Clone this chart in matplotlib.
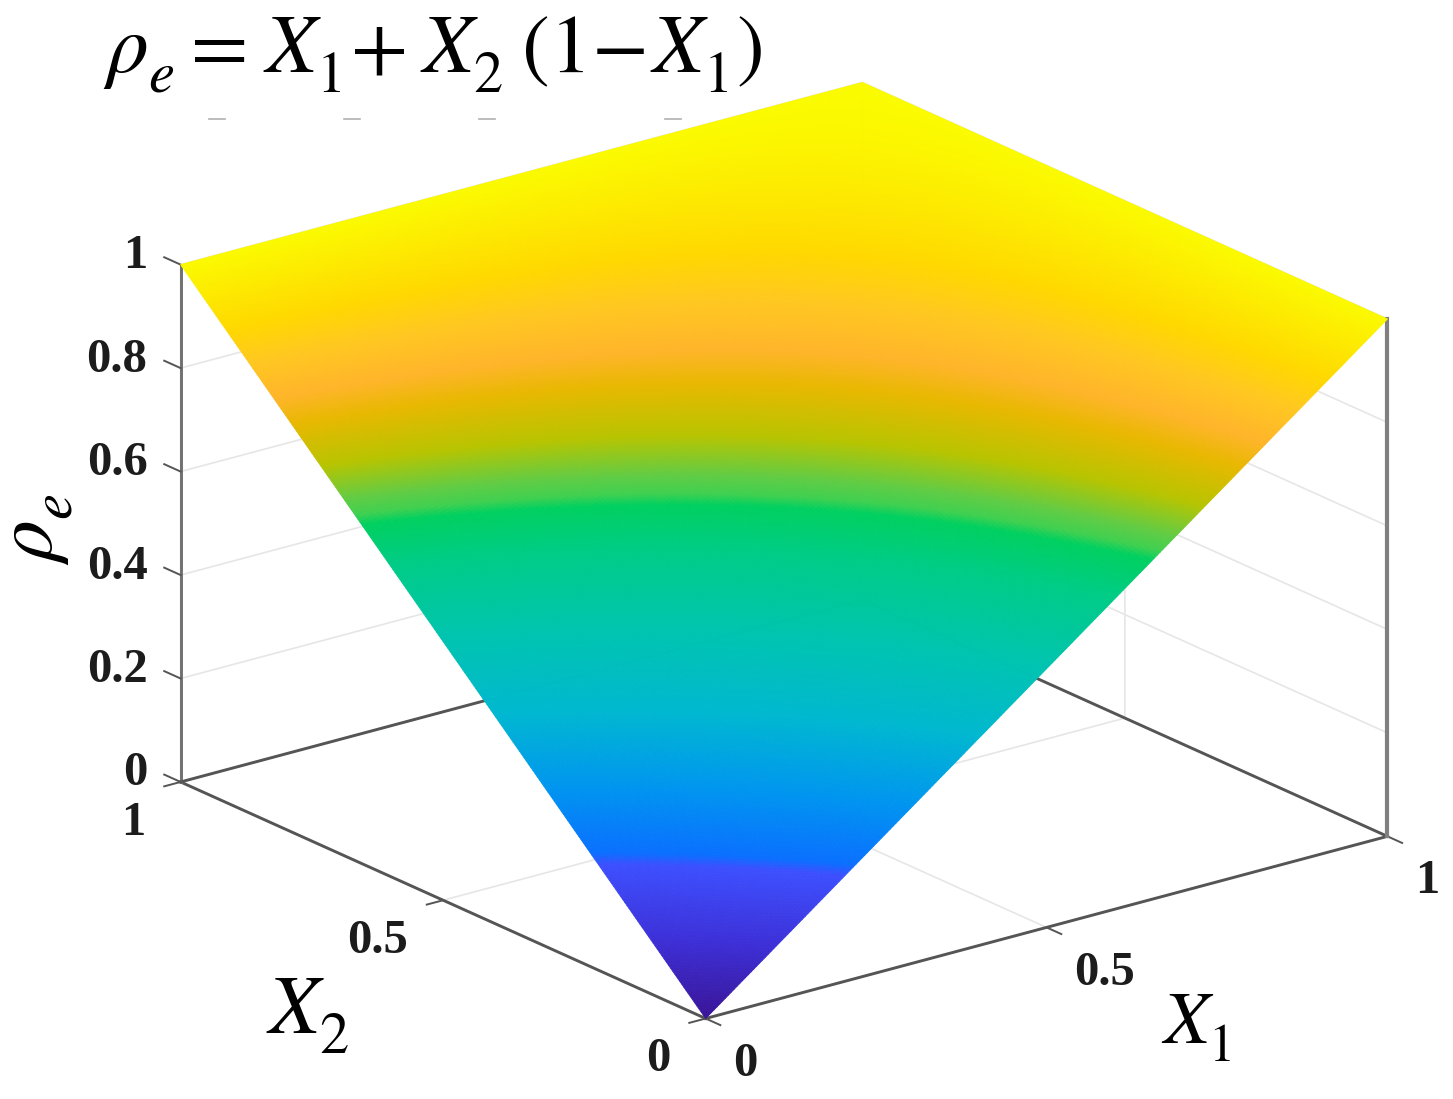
import numpy as np
import matplotlib
matplotlib.use("Agg")
import matplotlib.pyplot as plt
from matplotlib.colors import LinearSegmentedColormap
from matplotlib.lines import Line2D
from matplotlib.transforms import Affine2D
from matplotlib import _mathtext

# ---- data ----
x1_values = [0.0, 0.25, 0.5, 0.75, 1.0]
x2_values = [0.0, 0.25, 0.5, 0.75, 1.0]
# rho_e table: rows are X2, columns are X1
rho_values = [
    [0.00, 0.25, 0.50, 0.75, 1.00],
    [0.25, 0.4375, 0.625, 0.8125, 1.00],
    [0.50, 0.625, 0.75, 0.875, 1.00],
    [0.75, 0.8125, 0.875, 0.9375, 1.00],
    [1.00, 1.00, 1.00, 1.00, 1.00],
]
xy_ticks = [0, 0.5, 1]
xy_labels = ["0", "0.5", "1"]
z_ticks = [0, 0.2, 0.4, 0.6, 0.8, 1]
z_labels = ["0", "0.2", "0.4", "0.6", "0.8", "1"]

color_stops = [
    (0.00, "#3a169a"), (0.10, "#3d30d8"), (0.20, "#3d50ff"), (0.215, "#0a70ff"),
    (0.30, "#0095f0"), (0.40, "#00b8d0"), (0.50, "#00c4b0"), (0.60, "#00cc85"),
    (0.652, "#00d060"), (0.665, "#40d050"), (0.685, "#60cc45"), (0.73, "#b8c400"),
    (0.785, "#e8b800"), (0.82, "#ffb52a"), (0.868, "#ffc820"), (0.91, "#ffd800"),
    (1.00, "#fbfb00"),
]

W, H = 1453, 1099
_mathtext.STIXFontConstants.sub1 = 0.55
plt.rcParams["mathtext.fontset"] = "stix"
plt.rcParams["font.family"] = ["Liberation Serif", "DejaVu Serif"]
plt.rcParams["grid.color"] = "#e6e6e6"
plt.rcParams["grid.linewidth"] = 1.2
plt.rcParams["xtick.major.width"] = 1.4
plt.rcParams["ytick.major.width"] = 1.4
plt.rcParams["axes.edgecolor"] = "#555555"

fig = plt.figure(figsize=(W / 100, H / 100), dpi=100, facecolor="white")
S = 1453
ax = fig.add_axes([(784 - 0.5135 * S) / W, (548.5 - 0.5135 * S) / H, S / W, S / H],
                  projection="3d", proj_type="ortho")
ax.patch.set_alpha(0)
ax.view_init(elev=20.3, azim=-127.6)
ax.set_box_aspect((1, 1, 0.641), zoom=0.8927)
ax.computed_zorder = False
ax.set_xlim(0, 1)
ax.set_ylim(0, 1)
ax.set_zlim(0, 1)

# refine the table cell by cell so that the colour runs smoothly
n = 60
u = np.linspace(0, len(x1_values) - 1, (len(x1_values) - 1) * n + 1)
idx = np.arange(len(x1_values))
fx = np.interp(u, idx, x1_values)
fy = np.interp(u, idx, x2_values)
table = np.array(rho_values)
Zc = np.array([np.interp(u, idx, table[:, j]) for j in range(table.shape[1])]).T
Zf = np.array([np.interp(u, idx, Zc[i, :]) for i in range(Zc.shape[0])])
XX, YY = np.meshgrid(fx, fy)

cmap = LinearSegmentedColormap.from_list("rho", color_stops, N=1024)
ax.plot_surface(XX, YY, Zf, facecolors=cmap(Zf), rstride=1, cstride=1,
                shade=False, linewidth=0.6, antialiased=True, zorder=5)

# box lines behind the surface
edge = "#555555"
ax.plot([1, 1], [0, 1], [0, 0], color=edge, lw=2.1, zorder=2)
ax.plot([0, 1], [1, 1], [0, 0], color=edge, lw=2.1, zorder=2)
ax.plot([1, 1], [0, 0], [0, 1], color="#808080", lw=3, zorder=2)

for axis in (ax.xaxis, ax.yaxis, ax.zaxis):
    axis.set_pane_color((1, 1, 1, 1))
    axis.pane.set_edgecolor("white")
    axis.line.set_color(edge)
    axis.line.set_linewidth(2.1)
ax.zaxis.line.set_color("#707070")
ax.xaxis._axinfo["tick"].update(inward_factor=0.35, outward_factor=0.0)
ax.yaxis._axinfo["tick"].update(inward_factor=0.3, outward_factor=0.0)
ax.zaxis._axinfo["tick"].update(inward_factor=0.0, outward_factor=0.39)
ax.zaxis._get_tickdir = lambda position: 1

lab = dict(fontweight="bold", fontfamily="Liberation Serif", fontsize=35, color="#1c1c1c")
ax.set_xticks(xy_ticks)
ax.set_xticklabels(xy_labels, ha="left", va="center_baseline", **lab)
ax.set_yticks(xy_ticks)
ax.set_yticklabels(xy_labels, ha="right", va="center_baseline", **lab)
ax.set_zticks(z_ticks)
ax.set_zticklabels(z_labels, ha="right", va="center", **lab)
ax.tick_params(axis="x", pad=21, color=edge)
ax.tick_params(axis="y", pad=20, color=edge)
ax.tick_params(axis="z", pad=7, color=edge)

# lift the z tick labels a little, as in the reference
for tick in ax.zaxis.get_major_ticks():
    tick.label1.set_transform(ax.transData + Affine2D().translate(0, 7))
    tick.label1.set_transform = lambda t: None

def px(x, y):
    return x / W, 1 - y / H

fig.text(*px(103, 72),
         r"$\rho_{e}\hspace{0.0}=\hspace{0.1}X_{1}\hspace{-0.18}+\hspace{0.05}X_{2}"
         r"\hspace{0.25}(1\hspace{-0.18}-\hspace{-0.14}X_{1}\hspace{0.0})$",
         fontsize=60, ha="left", va="baseline", color="black")
fig.text(*px(266, 1034), r"$X_{2}$", fontsize=60, ha="left", va="baseline")
fig.text(*px(1161, 1043), r"$X_{1}$", fontsize=54, ha="left", va="baseline")
fig.text(*px(52, 565), r"$\rho_{e}$", fontsize=60, rotation=90, rotation_mode="anchor",
         ha="left", va="baseline")

# remnants of cropped text under the equation
for xc in (217, 352, 487, 673):
    fig.add_artist(Line2D([(xc - 8) / W, (xc + 8) / W], [1 - 119 / H] * 2,
                          color="#b0b0b0", lw=1.2))

fig.savefig("out.png", dpi=100)
